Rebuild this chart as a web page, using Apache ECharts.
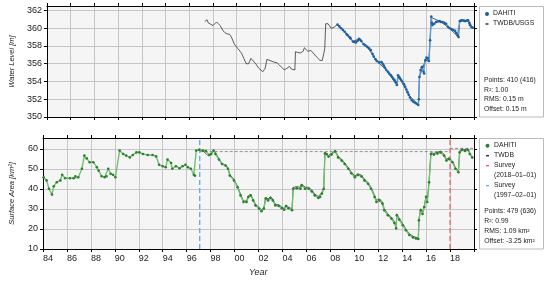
<!DOCTYPE html>
<html><head><meta charset="utf-8">
<script src="https://cdn.jsdelivr.net/npm/echarts@6/dist/echarts.min.js"></script>
<style>html,body{margin:0;padding:0;background:#fff}#c{width:550px;height:283px}</style>
</head><body><div id="c"></div>
<script>
// ---------------- DATA ----------------
const wlDahiti = [[2008.5,360.4],[2008.65,360.2],[2008.8,360.0],[2008.95,359.8],[2009.1,359.6],[2009.25,359.35],[2009.35,359.2],[2009.5,359.0],[2009.6,358.85],[2009.8,358.5],[2009.9,358.45],[2010.05,358.4],[2010.2,358.6],[2010.3,358.8],[2010.4,358.7],[2010.5,358.55],[2010.7,358.2],[2010.85,358.05],[2011.0,357.9],[2011.15,357.75],[2011.3,357.55],[2011.45,357.1],[2011.55,356.8],[2011.7,356.5],[2011.8,356.3],[2012.0,356.15],[2012.2,356.2],[2012.3,356.0],[2012.4,355.8],[2012.5,355.55],[2012.6,355.3],[2012.75,355.1],[2012.85,354.9],[2013.0,354.7],[2013.1,354.5],[2013.2,354.3],[2013.3,354.15],[2013.4,353.9],[2013.5,353.6],[2013.6,354.7],[2013.7,354.5],[2013.75,354.35],[2013.85,354.2],[2013.95,354.0],[2014.1,353.7],[2014.2,353.4],[2014.3,353.1],[2014.4,352.8],[2014.5,352.5],[2014.6,352.2],[2014.75,351.9],[2014.9,351.7],[2015.05,351.6],[2015.15,351.5],[2015.3,351.35],[2015.35,352.0],[2015.4,354.5],[2015.5,355.3],[2015.6,355.6],[2015.65,355.65],[2015.75,355.1],[2015.8,354.9],[2015.9,356.4],[2016.0,356.7],[2016.1,356.6],[2016.2,356.3],[2016.3,358.65],[2016.4,361.3],[2016.45,360.6],[2016.5,360.35],[2016.65,360.5],[2016.8,360.7],[2016.95,360.75],[2017.1,360.8],[2017.2,360.7],[2017.35,360.7],[2017.5,360.6],[2017.65,360.5],[2017.8,360.15],[2017.95,360.0],[2018.1,359.9],[2018.25,359.8],[2018.4,359.7],[2018.5,359.45],[2018.6,359.2],[2018.7,359.0],[2018.8,360.8],[2018.9,360.85],[2019.0,360.9],[2019.15,360.85],[2019.25,360.8],[2019.4,360.85],[2019.5,360.9],[2019.6,360.6],[2019.65,360.35],[2019.8,360.1],[2019.9,360.05]];
const wlGauge = [[1997.3,360.75],[1997.4,360.7],[1997.5,360.95],[1997.6,360.6],[1997.75,360.4],[1998.0,360.3],[1998.15,360.4],[1998.3,360.7],[1998.45,360.55],[1998.6,360.3],[1998.85,359.7],[1999.1,359.4],[1999.4,359.3],[1999.55,359.0],[1999.8,358.2],[2000.1,357.7],[2000.4,357.2],[2000.6,356.6],[2000.8,356.0],[2001.0,356.0],[2001.2,356.6],[2001.35,356.6],[2001.6,356.0],[2001.85,355.5],[2002.2,355.1],[2002.4,355.5],[2002.55,356.5],[2002.7,356.4],[2003.1,356.2],[2003.4,356.1],[2003.6,355.85],[2004.0,355.3],[2004.25,355.5],[2004.45,355.7],[2004.6,355.4],[2004.75,355.5],[2004.9,355.3],[2004.95,357.35],[2005.1,357.35],[2005.35,357.2],[2005.6,357.4],[2005.7,357.8],[2006.0,357.4],[2006.25,357.5],[2006.45,357.2],[2006.7,356.8],[2007.0,356.4],[2007.2,356.35],[2007.35,357.2],[2007.42,357.7],[2007.5,360.5],[2007.7,360.5],[2007.95,360.0],[2008.2,360.1],[2008.45,360.4],[2008.8,360.0],[2009.35,359.2],[2009.8,358.5],[2010.3,358.8],[2011.0,357.9],[2011.8,356.3],[2012.6,355.3],[2013.5,353.6],[2013.6,354.7],[2014.5,352.5],[2015.3,351.35],[2015.4,354.5],[2015.9,356.4],[2016.2,356.3],[2016.4,361.2],[2017.1,360.8],[2017.8,360.15],[2018.7,359.0],[2018.8,360.8],[2019.5,360.9],[2019.9,360.05]];
const saDahiti = [[1984.05,45.9],[1984.3,44.3],[1984.5,40.1],[1984.75,37.2],[1984.9,41.4],[1985.15,43.4],[1985.45,44.3],[1985.6,47.1],[1985.85,45.4],[1986.25,45.4],[1986.55,45.4],[1986.7,46.4],[1986.95,45.9],[1987.25,50.1],[1987.45,56.7],[1987.65,55.3],[1987.9,53.4],[1988.2,53.4],[1988.5,50.9],[1988.65,49.2],[1988.9,46.4],[1989.15,45.9],[1989.3,46.4],[1989.45,50.1],[1989.65,47.6],[1989.85,47.1],[1990.05,45.9],[1990.4,59.2],[1990.7,57.5],[1990.95,56.7],[1991.25,55.8],[1991.5,57.0],[1991.8,58.3],[1992.05,58.3],[1992.35,57.5],[1992.75,57.0],[1993.15,57.0],[1993.45,56.3],[1993.7,52.1],[1994.0,51.4],[1994.25,50.9],[1994.4,54.7],[1994.7,53.0],[1994.8,50.1],[1995.1,51.4],[1995.4,50.4],[1995.65,51.4],[1995.9,52.1],[1996.1,50.9],[1996.35,50.1],[1996.6,47.1],[1996.7,46.6],[1996.8,59.2],[1997.05,59.6],[1997.35,59.2],[1997.6,59.0],[1997.9,57.0],[1998.05,57.5],[1998.25,59.2],[1998.4,57.5],[1998.7,54.7],[1998.95,52.5],[1999.25,51.7],[1999.45,50.1],[1999.6,46.7],[1999.95,44.3],[2000.25,40.9],[2000.5,36.8],[2000.75,33.5],[2001.0,33.5],[2001.15,36.0],[2001.35,36.8],[2001.55,34.3],[2001.75,31.8],[2002.05,30.2],[2002.25,28.9],[2002.45,30.2],[2002.6,35.2],[2002.8,34.3],[2003.0,35.5],[2003.2,34.3],[2003.4,31.8],[2003.7,31.5],[2003.95,30.4],[2004.15,29.6],[2004.3,31.5],[2004.5,30.4],[2004.8,29.4],[2004.9,40.1],[2005.2,40.4],[2005.5,40.1],[2005.6,41.8],[2005.9,40.1],[2006.2,40.1],[2006.45,38.8],[2006.7,36.8],[2007.0,35.5],[2007.15,36.0],[2007.3,37.7],[2007.45,40.1],[2007.55,57.8],[2007.7,57.5],[2007.85,56.2],[2008.1,57.2],[2008.4,58.8],[2008.65,55.8],[2008.95,54.2],[2009.2,52.5],[2009.5,50.1],[2009.75,47.9],[2010.05,45.9],[2010.3,47.0],[2010.6,46.3],[2010.85,44.3],[2011.15,42.6],[2011.4,40.1],[2011.7,36.0],[2011.85,33.5],[2012.1,34.3],[2012.35,32.7],[2012.5,29.4],[2012.8,26.9],[2013.1,25.2],[2013.35,23.0],[2013.5,20.3],[2013.55,26.9],[2013.75,24.7],[2014.05,21.9],[2014.3,19.4],[2014.6,17.0],[2014.9,15.8],[2015.15,15.3],[2015.35,15.0],[2015.4,24.4],[2015.55,29.4],[2015.7,27.5],[2015.85,31.0],[2016.0,36.0],[2016.1,33.5],[2016.25,43.4],[2016.4,57.5],[2016.65,57.2],[2016.95,57.8],[2017.2,58.3],[2017.5,56.7],[2017.7,54.2],[2017.9,55.0],[2018.2,53.4],[2018.45,50.1],[2018.7,48.4],[2018.8,58.3],[2019.0,59.5],[2019.25,59.0],[2019.5,59.5],[2019.65,57.5],[2019.85,55.8]];
const saTwdb = [[1997.1,59.4],[1997.35,59.0],[1997.6,57.8],[1997.8,56.6],[1998.05,57.2],[1998.25,59.3],[1998.45,57.8],[1998.7,55.0],[1998.95,52.8],[1999.25,52.0],[1999.45,50.6],[1999.6,47.3],[1999.95,44.8],[2000.25,41.4],[2000.5,37.4],[2000.75,34.0],[2001.0,34.0],[2001.15,36.6],[2001.35,37.3],[2001.55,34.8],[2001.75,32.3],[2002.05,30.7],[2002.25,29.4],[2002.45,30.7],[2002.6,35.8],[2002.8,35.0],[2003.0,36.2],[2003.2,34.9],[2003.4,32.4],[2003.7,32.1],[2003.95,31.0],[2004.15,30.2],[2004.3,32.0],[2004.5,31.0],[2004.8,30.0],[2004.9,40.8],[2005.2,41.2],[2005.5,40.8],[2005.6,42.5],[2005.9,40.9],[2006.2,40.8],[2006.45,39.5],[2006.7,37.5],[2007.0,36.2],[2007.3,38.3],[2007.45,40.8],[2007.55,58.2],[2007.85,56.8],[2008.1,57.8],[2008.4,59.2],[2008.65,56.4],[2008.95,54.8],[2009.2,53.1],[2009.5,50.7],[2009.75,48.5],[2010.05,46.5],[2010.3,47.6],[2010.6,46.9],[2010.85,44.9],[2011.15,43.2],[2011.4,40.8],[2011.7,36.8],[2011.85,34.3],[2012.1,35.1],[2012.35,33.4],[2012.5,30.2],[2012.8,27.6],[2013.1,25.9],[2013.35,23.7],[2013.5,21.0],[2013.55,27.6],[2013.75,25.4],[2014.05,22.6],[2014.3,20.1],[2014.6,17.6],[2014.9,16.4],[2015.15,15.8],[2015.35,15.6],[2015.4,25.0],[2015.55,30.1],[2015.7,28.2],[2015.85,31.7],[2016.0,36.7],[2016.1,34.2],[2016.25,44.1],[2016.4,58.1],[2016.65,57.8],[2016.95,58.4],[2017.2,58.9],[2017.5,57.3],[2017.7,54.8],[2017.9,55.6],[2018.2,54.0],[2018.45,50.7],[2018.7,49.0],[2018.8,58.9],[2019.0,60.1],[2019.25,59.6],[2019.5,60.1],[2019.65,58.1],[2019.9,55.2]];
const surveyDates = [2018.0, 1997.09];
const surveyLabels = ['(2018–01–01)', '(1997–02–01)'];
const surveyAreas = [60.3, 58.7];
const wlStats = ['Points: 410 (416)', 'R²: 1.00', 'RMS: 0.15 m', 'Offset: 0.15 m'];
const saStats = ['Points: 479 (636)', 'R²: 0.99', 'RMS: 1.09 km²', 'Offset: -3.25 km²'];
const xMin = 1984, xMax = 2020, xStep = 2;
const wlMin = 350, wlMax = 362.5, wlStep = 2;
const saMin = 10, saMax = 65.5, saStep = 10;

// ---------------- STYLE ----------------
const FONT = 'Liberation Sans';
const blueDot = '#1f5f9e', blueLine = '#5b9bd5';
const greenDot = '#2f7d2f', greenLine = '#72c072';
const gridCol = '#c6c6c6';
const chart = echarts.init(document.getElementById('c'), null, {renderer: 'canvas'});

const G = [{left: 39, top: 6, width: 435, height: 111}, {left: 39, top: 138, width: 435, height: 111}];

function xAx(gi, pos, labels) {
  return {
    type: 'value', gridIndex: gi, position: pos, min: xMin, max: xMax, interval: xStep,
    axisLine: {show: true, onZero: false, lineStyle: {color: '#000', width: 1}},
    axisTick: {show: true, inside: false, length: 3, lineStyle: {color: '#000'}},
    splitLine: {show: pos === 'bottom', lineStyle: {color: gridCol, width: 1}},
    axisLabel: {show: labels, align: 'left', margin: 5, fontSize: 9, color: '#222', fontFamily: FONT,
      formatter: v => v >= xMax ? '' : String(v).slice(2)}
  };
}
function yAx(gi, pos, mn, mx, st, labels, name) {
  return {
    type: 'value', gridIndex: gi, position: pos, min: mn, max: mx, interval: st,
    name: name, nameLocation: 'middle', nameGap: 27,
    nameTextStyle: {fontSize: 7.5, fontStyle: 'italic', color: '#222', fontFamily: FONT},
    axisLine: {show: true, onZero: false, lineStyle: {color: '#000', width: 1}},
    axisTick: {show: true, inside: false, length: 3, lineStyle: {color: '#000'}},
    splitLine: {show: pos === 'left', lineStyle: {color: gridCol, width: 1}},
    axisLabel: {show: labels, margin: 5, fontSize: 9, color: '#222', fontFamily: FONT, showMaxLabel: false}
  };
}

const series = [
  // top panel
  {type: 'line', xAxisIndex: 0, yAxisIndex: 0, data: wlGauge, showSymbol: false, lineStyle: {color: '#333', width: 0.8}, z: 2},
  {type: 'line', xAxisIndex: 0, yAxisIndex: 0, data: wlDahiti, symbol: 'circle', symbolSize: 2.6, showAllSymbol: true,
   itemStyle: {color: blueDot}, lineStyle: {color: blueLine, width: 1.4}, z: 3},
  // bottom panel: survey references
  {type: 'line', xAxisIndex: 2, yAxisIndex: 2, data: [[surveyDates[1], surveyAreas[1]], [surveyDates[0], surveyAreas[1]]], showSymbol: false,
   lineStyle: {color: '#777', width: 0.8, type: [3, 2]}, z: 1},
  {type: 'line', xAxisIndex: 2, yAxisIndex: 2, data: [[surveyDates[0], surveyAreas[0]], [xMax, surveyAreas[0]]], showSymbol: false,
   lineStyle: {color: '#777', width: 0.8, type: [3, 2]}, z: 1},
  {type: 'line', xAxisIndex: 2, yAxisIndex: 2, data: [[surveyDates[1], saMin], [surveyDates[1], saMax]], showSymbol: false,
   lineStyle: {color: '#5fa8d8', width: 1.3, type: [5, 3]}, z: 1},
  {type: 'line', xAxisIndex: 2, yAxisIndex: 2, data: [[surveyDates[0], saMin], [surveyDates[0], saMax]], showSymbol: false,
   lineStyle: {color: '#e0524a', width: 1.1, type: [5, 3]}, z: 1},
  {type: 'line', xAxisIndex: 2, yAxisIndex: 2, data: saTwdb, showSymbol: false, lineStyle: {color: '#333', width: 0.8}, z: 2},
  {type: 'line', xAxisIndex: 2, yAxisIndex: 2, data: saDahiti, symbol: 'circle', symbolSize: 2.6, showAllSymbol: true,
   itemStyle: {color: greenDot}, lineStyle: {color: greenLine, width: 1.4}, z: 3}
];
series.forEach(s => { s.animation = false; s.silent = true; });

// legends as graphics
const LF = {fontSize: 6.8, fill: '#222', fontFamily: FONT};
function txt(x, y, t) { return {type: 'text', x: x, y: y - 4, style: Object.assign({text: t}, LF)}; }
const graphics = [
  {type: 'rect', shape: {x: 479.5, y: 6.5, width: 64, height: 110.5}, style: {fill: '#fff', stroke: '#bbb', lineWidth: 1}},
  {type: 'rect', shape: {x: 479.5, y: 138.5, width: 64, height: 110.5}, style: {fill: '#fff', stroke: '#bbb', lineWidth: 1}},
  {type: 'circle', shape: {cx: 487, cy: 14, r: 2}, style: {fill: blueDot}},
  txt(493, 14, 'DAHITI'),
  {type: 'line', shape: {x1: 485.5, y1: 24, x2: 488.5, y2: 24}, style: {stroke: '#333', lineWidth: 1.5}},
  txt(493, 24, 'TWDB/USGS'),
  {type: 'circle', shape: {cx: 487.5, cy: 145.7, r: 2}, style: {fill: greenDot}},
  txt(494, 145.7, 'DAHITI'),
  {type: 'line', shape: {x1: 486, y1: 155.7, x2: 489, y2: 155.7}, style: {stroke: '#333', lineWidth: 1.5}},
  txt(494, 155.7, 'TWDB'),
  {type: 'line', shape: {x1: 486, y1: 165.7, x2: 489, y2: 165.7}, style: {stroke: '#e0524a', lineWidth: 1.2}},
  txt(494, 165.7, 'Survey'),
  txt(494, 175.5, surveyLabels[0]),
  {type: 'line', shape: {x1: 486, y1: 185.7, x2: 489, y2: 185.7}, style: {stroke: '#5fa8d8', lineWidth: 1.2}},
  txt(494, 185.7, 'Survey'),
  txt(494, 195.5, surveyLabels[1]),
  {type: 'text', x: 249, y: 268, style: {text: 'Year', fontSize: 9, fontStyle: 'italic', fill: '#222', fontFamily: FONT}}
];
wlStats.forEach((t, i) => graphics.push(txt(484, 80.7 + i * 9.7, t)));
saStats.forEach((t, i) => graphics.push(txt(484.3, 212 + i * 9.8, t)));

chart.setOption({
  animation: false,
  backgroundColor: '#fff',
  grid: G.map(g => Object.assign({backgroundColor: '#f5f5f5', show: true, borderWidth: 0}, g)),
  xAxis: [xAx(0, 'bottom', false), xAx(0, 'top', false), xAx(1, 'bottom', true), xAx(1, 'top', false)],
  yAxis: [yAx(0, 'left', wlMin, wlMax, wlStep, true, 'Water Level [m]'), yAx(0, 'right', wlMin, wlMax, wlStep, false, ''),
          yAx(1, 'left', saMin, saMax, saStep, true, 'Surface Area [km²]'), yAx(1, 'right', saMin, saMax, saStep, false, '')],
  series: series,
  graphic: graphics
});
</script></body></html>
